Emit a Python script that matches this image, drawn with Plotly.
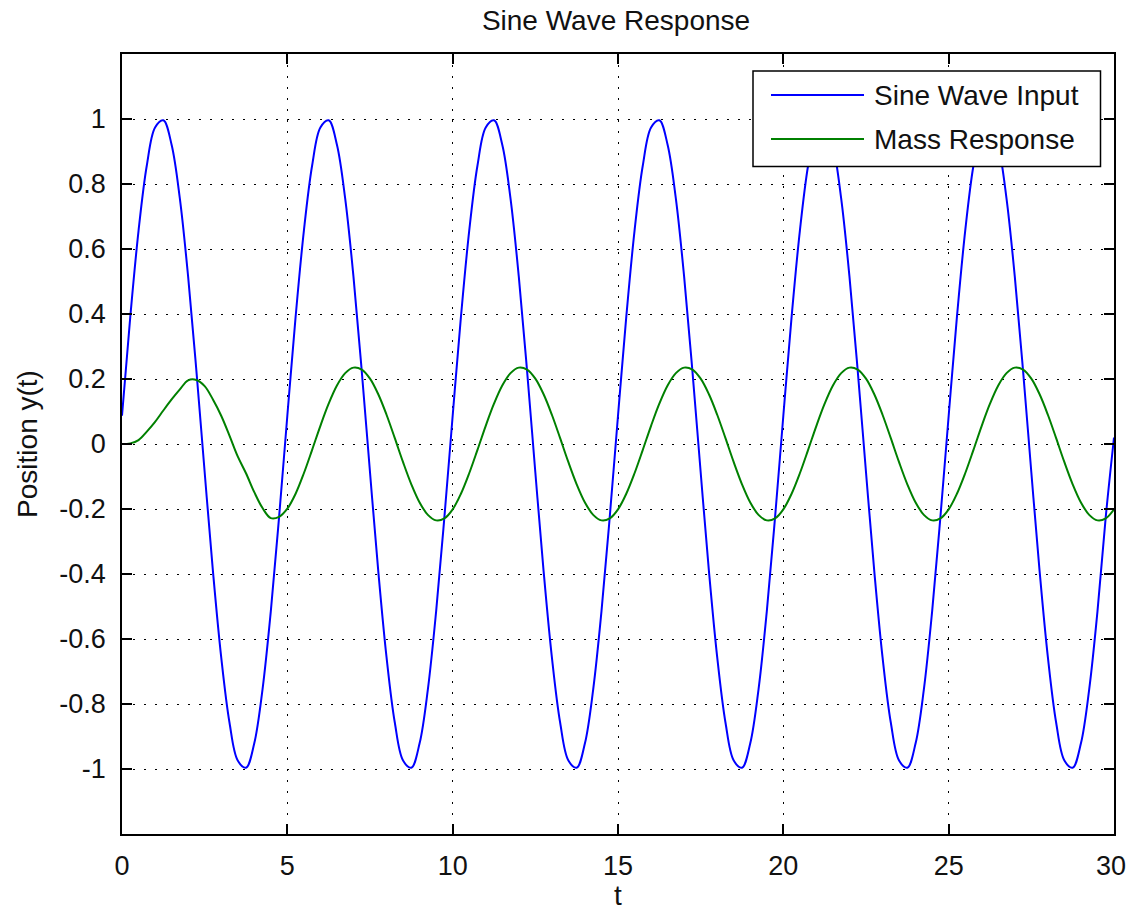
import plotly.graph_objects as go

# ---------------- data ----------------
t = [
    0.0, 0.25, 0.5, 0.75, 1.0, 1.25, 1.5, 1.75, 2.0, 2.25, 2.5, 2.75, 3.0, 3.25, 3.5, 3.75, 4.0, 4.25, 4.5, 4.75,
    5.0, 5.25, 5.5, 5.75, 6.0, 6.25, 6.5, 6.75, 7.0, 7.25, 7.5, 7.75, 8.0, 8.25, 8.5, 8.75, 9.0, 9.25, 9.5, 9.75,
    10.0, 10.25, 10.5, 10.75, 11.0, 11.25, 11.5, 11.75, 12.0, 12.25, 12.5, 12.75, 13.0, 13.25, 13.5, 13.75, 14.0, 14.25, 14.5, 14.75,
    15.0, 15.25, 15.5, 15.75, 16.0, 16.25, 16.5, 16.75, 17.0, 17.25, 17.5, 17.75, 18.0, 18.25, 18.5, 18.75, 19.0, 19.25, 19.5, 19.75,
    20.0, 20.25, 20.5, 20.75, 21.0, 21.25, 21.5, 21.75, 22.0, 22.25, 22.5, 22.75, 23.0, 23.25, 23.5, 23.75, 24.0, 24.25, 24.5, 24.75,
    25.0, 25.25, 25.5, 25.75, 26.0, 26.25, 26.5, 26.75, 27.0, 27.25, 27.5, 27.75, 28.0, 28.25, 28.5, 28.75, 29.0, 29.25, 29.5, 29.75,
    30.0,
]

sine_input = [
    0.087, 0.391, 0.656, 0.857, 0.974, 0.996, 0.921, 0.755, 0.515, 0.225, -0.087, -0.391, -0.656, -0.857, -0.974, -0.996, -0.921, -0.755, -0.515, -0.225,
    0.087, 0.391, 0.656, 0.857, 0.974, 0.996, 0.921, 0.755, 0.515, 0.225, -0.087, -0.391, -0.656, -0.857, -0.974, -0.996, -0.921, -0.755, -0.515, -0.225,
    0.087, 0.391, 0.656, 0.857, 0.974, 0.996, 0.921, 0.755, 0.515, 0.225, -0.087, -0.391, -0.656, -0.857, -0.974, -0.996, -0.921, -0.755, -0.515, -0.225,
    0.087, 0.391, 0.656, 0.857, 0.974, 0.996, 0.921, 0.755, 0.515, 0.225, -0.087, -0.391, -0.656, -0.857, -0.974, -0.996, -0.921, -0.755, -0.515, -0.225,
    0.087, 0.391, 0.656, 0.857, 0.974, 0.996, 0.921, 0.755, 0.515, 0.225, -0.087, -0.391, -0.656, -0.857, -0.974, -0.996, -0.921, -0.755, -0.515, -0.225,
    0.087, 0.391, 0.656, 0.857, 0.974, 0.996, 0.921, 0.755, 0.515, 0.225, -0.087, -0.391, -0.656, -0.857, -0.974, -0.996, -0.921, -0.755, -0.515, -0.225,
    0.02,
]

mass_response = [
    0.0, 0.002, 0.012, 0.038, 0.068, 0.103, 0.137, 0.168, 0.196, 0.197, 0.178, 0.137, 0.087, 0.026, -0.038, -0.090, -0.148, -0.197, -0.228, -0.224,
    -0.199, -0.153, -0.090, -0.018, 0.056, 0.124, 0.180, 0.218, 0.235, 0.229, 0.201, 0.153, 0.090, 0.018, -0.056, -0.124, -0.180, -0.218, -0.235, -0.229,
    -0.201, -0.153, -0.090, -0.018, 0.056, 0.124, 0.180, 0.218, 0.235, 0.229, 0.201, 0.153, 0.090, 0.018, -0.056, -0.124, -0.180, -0.218, -0.235, -0.229,
    -0.201, -0.153, -0.090, -0.018, 0.056, 0.124, 0.180, 0.218, 0.235, 0.229, 0.201, 0.153, 0.090, 0.018, -0.056, -0.124, -0.180, -0.218, -0.235, -0.229,
    -0.201, -0.153, -0.090, -0.018, 0.056, 0.124, 0.180, 0.218, 0.235, 0.229, 0.201, 0.153, 0.090, 0.018, -0.056, -0.124, -0.180, -0.218, -0.235, -0.229,
    -0.201, -0.153, -0.090, -0.018, 0.056, 0.124, 0.180, 0.218, 0.235, 0.229, 0.201, 0.153, 0.090, 0.018, -0.056, -0.124, -0.180, -0.218, -0.235, -0.229,
    -0.201,
]

series_names = ["Sine Wave Input", "Mass Response"]
series_colors = ["#0000ff", "#008000"]

x_tick_vals = [0, 5, 10, 15, 20, 25, 30]
x_tick_text = ["0", "5", "10", "15", "20", "25", "30"]
y_tick_vals = [-1.0, -0.8, -0.6, -0.4, -0.2, 0.0, 0.2, 0.4, 0.6, 0.8, 1.0]
y_tick_text = ["-1", "-0.8", "-0.6", "-0.4", "-0.2", "0", "0.2", "0.4", "0.6", "0.8", "1"]

title_text = "Sine Wave Response"
x_label = "t"
y_label = "Position y(t)"

# ---------------- figure ----------------
FONT = "Liberation Sans, Arial, Helvetica, sans-serif"
FS = 28
TICK_FS = 27
W, H = 1128, 911
ML, MR, MT, MB = 122, 14, 54, 77
PW, PH = W - ML - MR, H - MT - MB


def px_x(px):
    return (px - ML) / PW


def px_y(py):
    return 1 - (py - MT) / PH


fig = go.Figure()
for ys, name, col in zip([sine_input, mass_response], series_names, series_colors):
    fig.add_trace(go.Scatter(x=t, y=ys, mode="lines", name=name,
                             line=dict(color=col, width=2, shape="spline", smoothing=1.0),
                             showlegend=False))

axis_common = dict(
    showline=True, linecolor="#000000", linewidth=1.5, mirror="ticks",
    ticks="inside", ticklen=10, tickwidth=1.5, tickcolor="#000000",
    showgrid=True, gridcolor="#000000", gridwidth=1, griddash="2px,9px",
    zeroline=False,
    tickfont=dict(family=FONT, size=TICK_FS, color="#111111"),
)

# the last x label sits on the page edge, so it is drawn as a right-aligned text below
x_tick_shown = x_tick_text[:-1] + [""]

fig.update_xaxes(range=[0, 30], tickmode="array", tickvals=x_tick_vals, ticktext=x_tick_shown,
                 ticklabelstandoff=7,
                 title=dict(text=x_label, font=dict(family=FONT, size=FS, color="#111111"), standoff=6),
                 **axis_common)
fig.update_yaxes(range=[-1.2, 1.2], tickmode="array", tickvals=y_tick_vals, ticktext=y_tick_text,
                 ticklabelstandoff=9,
                 title=dict(text=y_label, font=dict(family=FONT, size=FS, color="#111111"), standoff=14),
                 **axis_common)

# MATLAB-style legend box drawn in the top right corner
lx0, lx1, ly0, ly1 = px_x(753), px_x(1100.5), px_y(166.5), px_y(71)
shapes = [dict(type="rect", xref="paper", yref="paper", x0=lx0, x1=lx1, y0=ly0, y1=ly1,
               line=dict(color="#000000", width=1.5), fillcolor="#ffffff", layer="above")]
annotations = []
for row_y, name, col in zip([95, 139], series_names, series_colors):
    shapes.append(dict(type="line", xref="paper", yref="paper", x0=px_x(771), x1=px_x(864),
                       y0=px_y(row_y), y1=px_y(row_y), line=dict(color=col, width=2), layer="above"))
    annotations.append(dict(xref="paper", yref="paper", x=px_x(872), y=px_y(row_y), text=name,
                            showarrow=False, xanchor="left", yanchor="middle",
                            font=dict(family=FONT, size=FS, color="#111111")))

annotations.append(dict(xref="paper", yref="paper", x=px_x(1127), y=px_y(866), text=x_tick_text[-1],
                        showarrow=False, xanchor="right", yanchor="middle", borderpad=0,
                        font=dict(family=FONT, size=TICK_FS, color="#111111")))

fig.update_layout(
    width=W, height=H,
    margin=dict(l=ML, r=MR, t=MT, b=MB, autoexpand=False),
    paper_bgcolor="#ffffff", plot_bgcolor="#ffffff",
    title=dict(text=title_text, x=px_x(616), xref="paper", xanchor="center",
               y=1 - 20 / H, yref="container", yanchor="middle",
               font=dict(family=FONT, size=FS, color="#111111")),
    shapes=shapes, annotations=annotations,
    showlegend=False,
)

fig.write_html("out.html")
